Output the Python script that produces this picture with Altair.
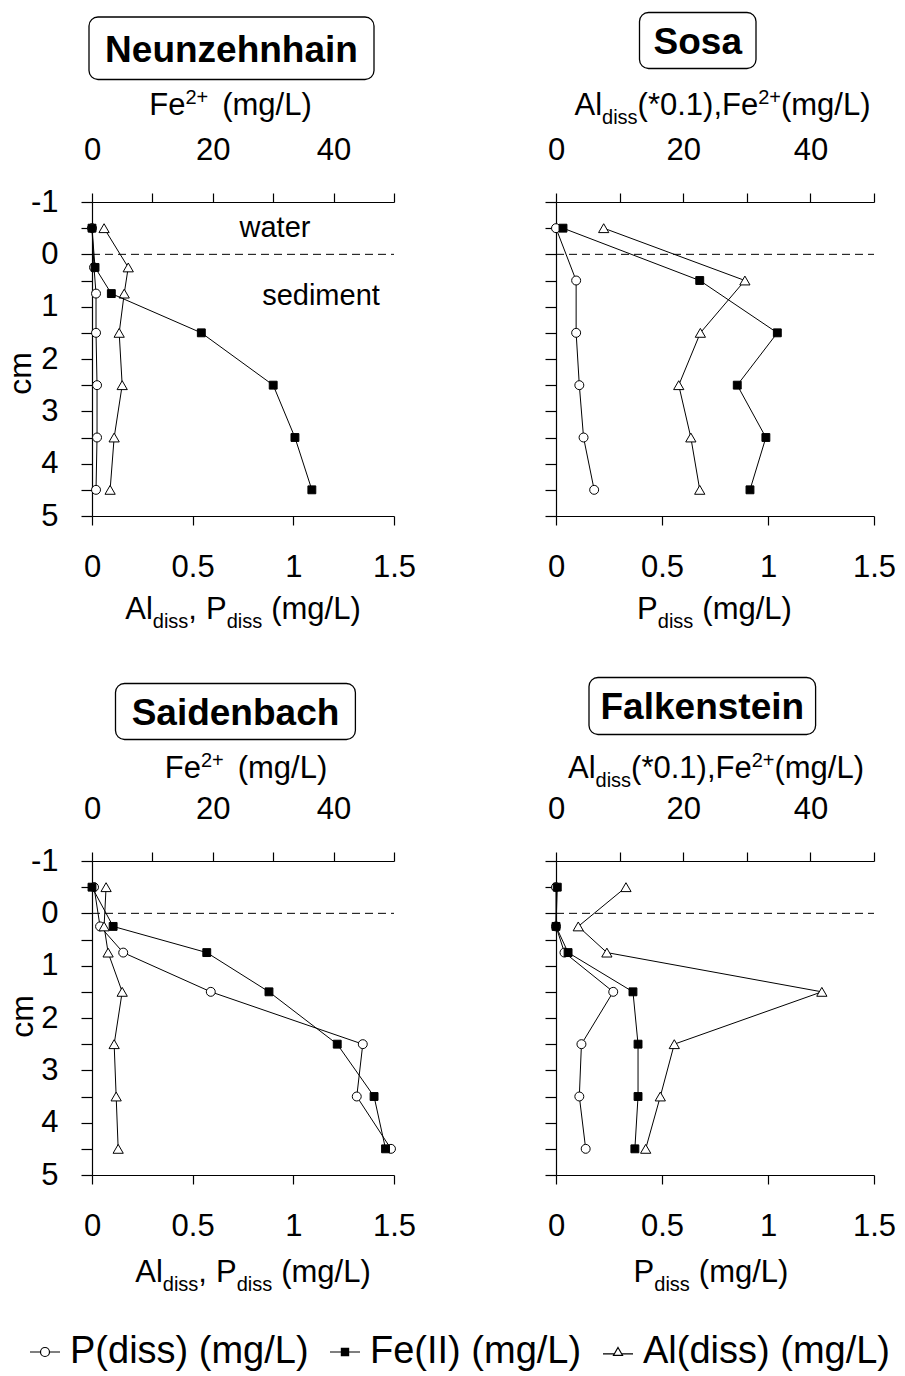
import altair as alt
import pandas as pd

FONT = "Liberation Sans"

# ---------------- data ----------------
SERIES = ["P(diss) (mg/L)", "Fe(II) (mg/L)", "Al(diss) (mg/L)"]
P, FE, AL = SERIES

# Neunzehnhain: P, Al on bottom axis (mg/L); Fe on top axis (mg/L)
neun_depth = [-0.5, 0.25, 0.75, 1.5, 2.5, 3.5, 4.5]
neun_p = [0.0, 0.01, 0.02, 0.02, 0.025, 0.025, 0.02]
neun_fe = [0.0, 0.5, 3.2, 18.1, 30.0, 33.6, 36.4]
neun_al = [0.06, 0.18, 0.16, 0.135, 0.15, 0.11, 0.09]

# Sosa: P on bottom axis; Fe and Al(*0.1) on top axis
sosa_depth = [-0.5, 0.5, 1.5, 2.5, 3.5, 4.5]
sosa_p = [0.0, 0.095, 0.095, 0.11, 0.13, 0.18]
sosa_fe = [1.1, 22.6, 34.8, 28.5, 33.0, 30.5]
sosa_al_x01 = [7.5, 29.7, 22.7, 19.3, 21.2, 22.6]

# Saidenbach: P, Al on bottom axis; Fe on top axis
said_depth = [-0.5, 0.25, 0.75, 1.5, 2.5, 3.5, 4.5]
said_p = [0.01, 0.04, 0.155, 0.59, 1.345, 1.315, 1.485]
said_fe = [0.0, 3.5, 19.0, 29.3, 40.6, 46.7, 48.6]
said_al = [0.07, 0.06, 0.08, 0.15, 0.11, 0.12, 0.13]

# Falkenstein: P on bottom axis; Fe and Al(*0.1) on top axis
falk_depth = [-0.5, 0.25, 0.75, 1.5, 2.5, 3.5, 4.5]
falk_p = [0.0, 0.0, 0.04, 0.27, 0.12, 0.11, 0.14]
falk_fe = [0.2, 0.0, 1.9, 12.1, 12.9, 12.9, 12.4]
falk_al_x01 = [11.0, 3.5, 8.0, 41.8, 18.6, 16.4, 14.1]

Y_TICKS = [-1, -0.5, 0, 0.5, 1, 1.5, 2, 2.5, 3, 3.5, 4, 4.5, 5]
BOTTOM_TICKS = [0, 0.5, 1, 1.5]
TOP_TICKS = [0, 10, 20, 30, 40, 50]

H = 314
ONE = pd.DataFrame({"k": [0]})

ARIAL = {" ": 278, "(": 333, ")": 333, "*": 389, ",": 278, ".": 278, "/": 278,
         "+": 584, "A": 667, "F": 611, "L": 556, "P": 667, "a": 556, "d": 556,
         "e": 556, "g": 556, "i": 222, "l": 222, "m": 833, "s": 500}


def text_width(s, size):
    return sum(ARIAL.get(c, 556) for c in s) / 1000.0 * size


def rich_text(pieces, cx, baseline):
    """pieces: (text, fontsize, baseline shift, gap before)"""
    total = sum(text_width(t, s) + g for t, s, dy, g in pieces)
    x = cx - total / 2.0
    out = []
    for t, s, dy, g in pieces:
        x += g
        out.append(
            alt.Chart(ONE)
            .mark_text(text=t, fontSize=s, font=FONT, align="left",
                       baseline="alphabetic", color="black")
            .encode(x=alt.value(x), y=alt.value(baseline + dy))
        )
        x += text_width(t, s)
    return out


def plain_text(t, x, y, size, bold=False, angle=0, baseline="alphabetic"):
    return (
        alt.Chart(ONE)
        .mark_text(text=t, fontSize=size, font=FONT, align="center",
                   baseline=baseline, color="black",
                   fontWeight="bold" if bold else "normal", angle=angle)
        .encode(x=alt.value(x), y=alt.value(y))
    )


def long_frame(depths, cols):
    rows = []
    for name, vals in cols.items():
        for d, v in zip(depths, vals):
            rows.append({"series": name, "depth": d, "value": v})
    return pd.DataFrame(rows)


FE_SUP = [("Fe", 31, 0, 0), ("2+", 20, -11, 0), ("(mg/L)", 31, 0, 14)]
ALFE_SUP = [("Al", 31, 0, 0), ("diss", 20, 9, 0), ("(*0.1),Fe", 31, 0, 0),
            ("2+", 20, -11, 0), ("(mg/L)", 31, 0, 0)]
ALP_SUB = [("Al", 31, 0, 0), ("diss", 20, 9, 0), (",", 31, 0, 0),
           ("P", 31, 0, 9), ("diss", 20, 9, 0), ("(mg/L)", 31, 0, 9)]
P_SUB = [("P", 31, 0, 0), ("diss", 20, 9, 0), ("(mg/L)", 31, 0, 9)]

SYMBOL_PATHS = [
    "M-1,0L-0.3,0M0.3,0L1,0M0.3,0A0.3,0.3,0,1,1,-0.3,0A0.3,0.3,0,1,1,0.3,0Z",
    "M-1,0L-0.24,0M0.24,0L1,0M-0.24,-0.24L0.24,-0.24L0.24,0.24L-0.24,0.24Z",
    "M-1,0.12L-0.24,0.12M0.24,0.12L1,0.12M0,-0.3L0.3,0.22L-0.3,0.22Z",
]


def panel(width, df, bottom_series, top_series, y_labels, name, box, name_cx,
          name_base, top_pieces, top_cx, top_base, bot_pieces, bot_cx, bot_base,
          cm_pos=None, annotate=False, legend=False):
    y_axis = alt.Axis(
        values=Y_TICKS, labels=y_labels, title=None, tickSize=11, labelPadding=23,
        labelOverlap=False, labelFlush=False, labelBound=False,
        labelExpr="datum.value % 1 === 0 ? (datum.value < 0 ? '-' + (-datum.value) : '' + datum.value) : ''",
    )
    y = alt.Y("depth:Q", scale=alt.Scale(domain=[-1, 5], reverse=True, nice=False, zero=False),
              axis=y_axis)
    xb = alt.X("value:Q", scale=alt.Scale(domain=[0, 1.5], nice=False, zero=False),
               axis=alt.Axis(orient="bottom", values=BOTTOM_TICKS, format="~g", title=None,
                             tickSize=9, labelPadding=27, labelOverlap=False,
                             labelFlush=False))
    xt = alt.X("value:Q", scale=alt.Scale(domain=[0, 50], nice=False, zero=False),
               axis=alt.Axis(orient="top", values=TOP_TICKS, title=None, tickSize=9,
                             labelPadding=27, labelOverlap=False, labelFlush=False,
                             labelExpr="(datum.value % 20 === 0 && datum.value < 50) ? datum.label : ''"))

    def series_layers(sub, x):
        layers = [alt.Chart(sub).mark_line(color="black", strokeWidth=1).encode(
            x=x, y=y, detail="series:N", order="depth:Q")]
        if (sub.series == FE).any():
            layers.append(alt.Chart(sub[sub.series == FE]).mark_point(
                shape="square", filled=True, fill="black", stroke="black",
                strokeWidth=1, size=62, opacity=1).encode(x=x, y=y))
        if (sub.series == P).any():
            layers.append(alt.Chart(sub[sub.series == P]).mark_point(
                shape="circle", filled=True, fill="white", stroke="black",
                strokeWidth=1, size=80, opacity=1).encode(x=x, y=y))
        if (sub.series == AL).any():
            layers.append(alt.Chart(sub[sub.series == AL]).mark_point(
                shape="triangle-up", filled=True, fill="white", stroke="black",
                strokeWidth=1, size=105, opacity=1).encode(x=x, y=y))
        return layers

    bdf = df[df.series.isin(bottom_series)]
    tdf = df[df.series.isin(top_series)]

    interface = alt.Chart(pd.DataFrame({"depth": [0]})).mark_rule(
        color="black", strokeWidth=1, strokeDash=[8, 5]).encode(
        y=y, x=alt.value(0), x2=alt.value(width))

    bottom_layer = alt.layer(interface, *series_layers(bdf, xb))
    top_layer = alt.layer(*series_layers(tdf, xt))

    deco = [
        alt.Chart(ONE).mark_rect(cornerRadius=9, fill="white", stroke="black",
                                 strokeWidth=1.3).encode(
            x=alt.value(box[0]), x2=alt.value(box[1]),
            y=alt.value(box[2]), y2=alt.value(box[3])),
        plain_text(name, name_cx, name_base, 37, bold=True),
    ]
    deco += rich_text(top_pieces, top_cx, top_base)
    deco += rich_text(bot_pieces, bot_cx, bot_base)
    if cm_pos is not None:
        deco.append(plain_text("cm", cm_pos[0], cm_pos[1], 32, angle=270, baseline="middle"))
    if annotate:
        deco.append(plain_text("water", 183, 35, 29))
        deco.append(plain_text("sediment", 229, 103, 29))

    extra = []
    if legend:
        leg = alt.Legend(orient="none", legendX=-66, legendY=1131, direction="horizontal",
                         title=None, labelFont=FONT, labelFontSize=38, labelColor="black",
                         labelLimit=600, labelOffset=6, symbolSize=900,
                         symbolStrokeWidth=1.2, symbolOpacity=1, columnPadding=17)
        extra.append(
            alt.Chart(pd.DataFrame({"series": SERIES})).mark_point(
                size=0, filled=True, stroke="black", strokeWidth=1.2).encode(
                shape=alt.Shape("series:N", scale=alt.Scale(domain=SERIES, range=SYMBOL_PATHS),
                                legend=leg),
                fill=alt.Fill("series:N", scale=alt.Scale(domain=SERIES,
                                                          range=["white", "black", "white"]),
                              legend=leg),
            )
        )

    return alt.layer(bottom_layer, top_layer, *deco, *extra).resolve_scale(
        x="independent").properties(width=width, height=H)


p1 = panel(302, long_frame(neun_depth, {P: neun_p, FE: neun_fe, AL: neun_al}),
           [P, AL], [FE], True, "Neunzehnhain", (-3, 282, -185, -122.5), 139.5, -140.5,
           FE_SUP, 138.5, -87.5, ALP_SUB, 151, 416.5, cm_pos=(-71, 171.5), annotate=True)
p2 = panel(318, long_frame(sosa_depth, {P: sosa_p, FE: sosa_fe, AL: sosa_al_x01}),
           [P], [FE, AL], False, "Sosa", (83.5, 200, -189.5, -133.5), 141.75, -148.5,
           ALFE_SUP, 166.5, -87.5, P_SUB, 158.5, 416.5)
p3 = panel(302, long_frame(said_depth, {P: said_p, FE: said_fe, AL: said_al}),
           [P, AL], [FE], True, "Saidenbach", (23.5, 263.4, -177.5, -121.5), 143.5, -136.5,
           FE_SUP, 154, -83.5, ALP_SUB, 161, 420.5, cm_pos=(-69, 155.5))
p4 = panel(318, long_frame(falk_depth, {P: falk_p, FE: falk_fe, AL: falk_al_x01}),
           [P], [FE, AL], False, "Falkenstein", (33, 259.6, -183.5, -126.5), 146.3, -142,
           ALFE_SUP, 160, -83.5, P_SUB, 155, 420.5, legend=True)

chart = (
    alt.concat(p1, p2, p3, p4, columns=2, bounds="flush",
               spacing=alt.RowColnumber(row=345, column=162))
    .properties(padding={"left": 5, "top": 11, "right": 5, "bottom": 5},
                background="white")
    .configure_view(stroke=None)
    .configure_axis(domainColor="black", tickColor="black", domainWidth=1.2,
                    tickWidth=1.2, labelColor="black", labelFont=FONT,
                    labelFontSize=31, grid=False)
)

chart.save("out.html", embed_options={"renderer": "svg", "actions": False})
